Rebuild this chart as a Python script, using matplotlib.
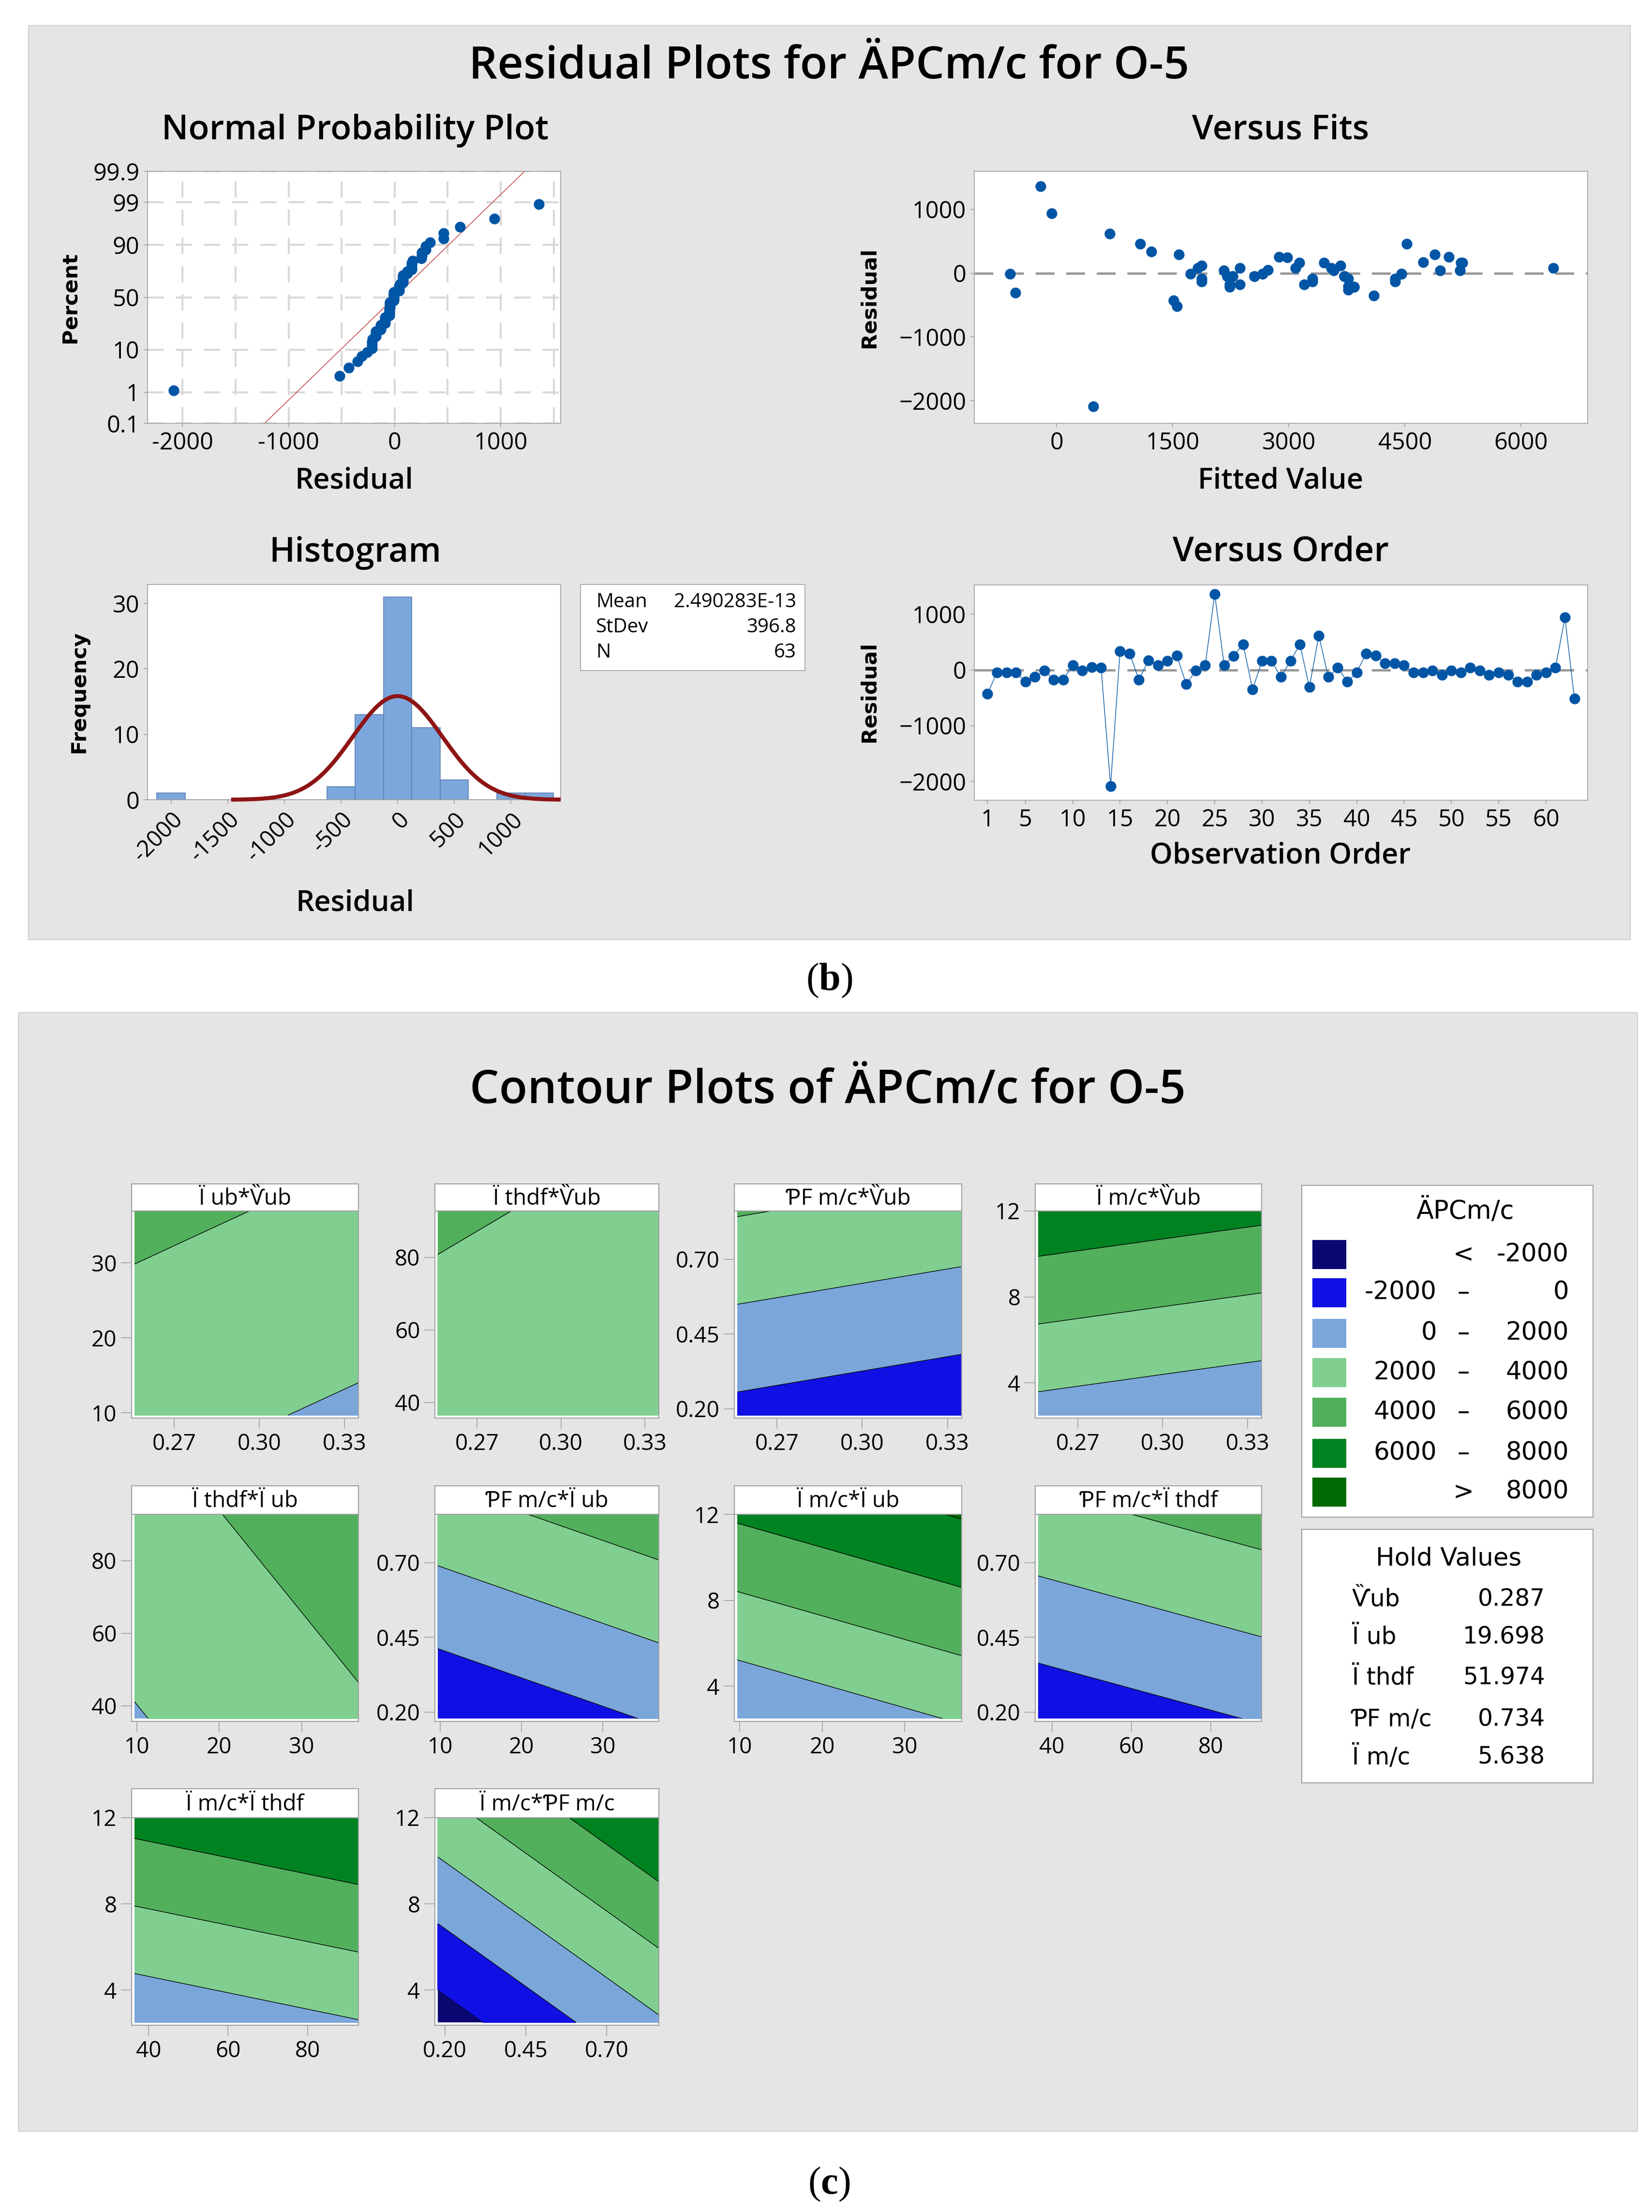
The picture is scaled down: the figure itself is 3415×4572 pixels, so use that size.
import matplotlib
matplotlib.use('Agg')
import matplotlib.pyplot as plt
import numpy as np
from matplotlib.patches import Rectangle
from statistics import NormalDist

W, H = 3416, 4572
DPI = 100

# ---------------- data: residual plots ----------------
residuals = [-430, -45, -45, -45, -210, -130, -10, -175, -175, 80,
             -10, 50, 40, -2085, 335, 295, -175, 170, 80, 160,
             255, -260, -10, 80, 1360, 80, 250, 460, -350, 160,
             160, -130, 160, 460, -310, 615, -130, 40, -215, -45,
             295, 255, 120, 120, 80, -50, -50, -10, -90, -10,
             -50, 40, -10, -90, -50, -90, -215, -215, -90, -50,
             40, 940, -520]
fitted = [1513, 2270, 3717, 2553, 3770, 4375, 1730, 3197, 2368, 1822,
          2658, 2730, 2158, 474, 1224, 1579, 2237, 4737, 3086, 5224,
          2875, 3770, 4454, 2368, -210, 6421, 2980, 1079, 4099, 5243,
          3454, 3303, 3138, 4526, -533, 684, 1875, 3579, 3842, 2204,
          4888, 5066, 3664, 1875, 3546, 2270, 3717, -605, 3770, 4454,
          2553, 4954, 2658, 3303, 2204, 1875, 3842, 2237, 4375, 3717,
          5211, -66, 1553]
res_mean = 2.490283e-13
res_stdev = 396.8
res_n = 63
hist_edges = [-2125, -1875, -1625, -1375, -1125, -875, -625, -375, -125,
              125, 375, 625, 875, 1125, 1375]
prob_ticks = [0.1, 1, 10, 50, 90, 99, 99.9]
prob_labels = ['0.1', '1', '10', '50', '90', '99', '99.9']
order_ticks = [1, 5, 10, 15, 20, 25, 30, 35, 40, 45, 50, 55, 60]

# ---------------- data: contour plots ----------------
var_range = {'V': (0.256, 0.335), 'Iub': (9.7, 36.9), 'thdf': (36.5, 92.8),
             'PF': (0.178, 0.862), 'Im': (2.5, 12.0)}
var_ticks = {'V': [0.27, 0.30, 0.33], 'Iub': [10, 20, 30], 'thdf': [40, 60, 80],
             'PF': [0.20, 0.45, 0.70], 'Im': [4, 8, 12]}
var_ticklabels = {'V': ['0.27', '0.30', '0.33'], 'Iub': ['10', '20', '30'],
                  'thdf': ['40', '60', '80'], 'PF': ['0.20', '0.45', '0.70'],
                  'Im': ['4', '8', '12']}
panel_titles = ['Ï ub*Ѷub', 'Ï thdf*Ѷub', 'ƤF m/c*Ѷub', 'Ï m/c*Ѷub',
                'Ï thdf*Ï ub', 'ƤF m/c*Ï ub', 'Ï m/c*Ï ub', 'ƤF m/c*Ï thdf',
                'Ï m/c*Ï thdf', 'Ï m/c*ƤF m/c']
panel_xvar = ['V', 'V', 'V', 'V', 'Iub', 'Iub', 'Iub', 'thdf', 'thdf', 'PF']
panel_yvar = ['Iub', 'thdf', 'PF', 'Im', 'thdf', 'PF', 'Im', 'PF', 'Im', 'Im']
# corner values of the response: (xmin,ymin), (xmax,ymin), (xmin,ymax), (xmax,ymax)
panel_corners = [[2639, 1707, 4478, 3546],
                 [2914, 2030, 4294, 3410],
                 [-529, -1390, 4129, 3268],
                 [1308, 388, 7340, 6420],
                 [1886, 3756, 3266, 5136],
                 [-1688, 175, 3239, 5102],
                 [283, 2162, 6258, 8137],
                 [-1276, 124, 3415, 4815],
                 [552, 1919, 6613, 7980],
                 [-2970, 1777, 3177, 7924]]
contour_levels = [-2000, 0, 2000, 4000, 6000, 8000]
contour_colors = ['#0A0870', '#1010E4', '#7BA6DA', '#80CF91', '#52B05C',
                  '#008221', '#026A03']
legend_left = ['', '-2000', '0', '2000', '4000', '6000', '']
legend_mid = ['<', '–', '–', '–', '–', '–', '>']
legend_right = ['-2000', '0', '2000', '4000', '6000', '8000', '8000']
hold_names = ['Ѷub', 'Ï ub', 'Ï thdf', 'ƤF m/c', 'Ï m/c']
hold_values = ['0.287', '19.698', '51.974', '0.734', '5.638']

# ---------------- style ----------------
plt.rcParams['font.family'] = ['Open Sans', 'Noto Sans', 'DejaVu Sans']
BLUE = '#0055A5'
GRAYBG = '#E5E5E5'
SPINE = '#A0A0A0'

fig = plt.figure(figsize=(W / DPI, H / DPI), dpi=DPI)
fig.patch.set_facecolor('white')


def rect(x0, y0, x1, y1):
    return [x0 / W, 1 - y1 / H, (x1 - x0) / W, (y1 - y0) / H]


def ftext(x, y, s, **kw):
    kw.setdefault('ha', 'center')
    kw.setdefault('va', 'center')
    return fig.text(x / W, 1 - y / H, s, **kw)


def fbox(x0, y0, x1, y1, fc, ec, lw=1.5, z=-10):
    r = Rectangle((x0 / W, 1 - y1 / H), (x1 - x0) / W, (y1 - y0) / H,
                  transform=fig.transFigure, facecolor=fc, edgecolor=ec,
                  linewidth=lw, zorder=z)
    fig.add_artist(r)


def style_axes(ax, tick_len=6, lsize=35):
    for sp in ax.spines.values():
        sp.set_color(SPINE)
        sp.set_linewidth(1.2)
    ax.tick_params(axis='both', colors=SPINE, labelcolor='black',
                   labelsize=lsize, length=tick_len, width=1.2, pad=6)


# backgrounds
fbox(59, 53, 3370, 1942, GRAYBG, '#CFCFCF')
fbox(38, 2093, 3385, 4405, GRAYBG, '#CFCFCF')

TITLE_KW = dict(fontsize=67, fontweight='semibold')
SUB_KW = dict(fontsize=51, fontweight='semibold')
XL_KW = dict(fontsize=43, fontweight='semibold')
YL_KW = dict(fontsize=31, fontweight='bold', family=['DejaVu Sans'], rotation=90)

ftext(1714, 138, 'Residual Plots for ÄPCm/c for O-5', **TITLE_KW)

res = np.array(residuals, dtype=float)
nd = NormalDist()

# ---- Normal probability plot ----
ax = fig.add_axes(rect(305, 354, 1159, 875))
style_axes(ax)
srt = np.sort(res)
ranks = np.arange(1, res_n + 1)
pp = (ranks - 0.3) / (res_n + 0.4)
zz = np.array([nd.inv_cdf(p) for p in pp])
zlo, zhi = nd.inv_cdf(0.001), nd.inv_cdf(0.999)
ax.set_xlim(-2330, 1566)
ax.set_ylim(zlo, zhi)
ax.set_xticks([-2000, -1000, 0, 1000])
ax.set_xticklabels(['-2000', '-1000', '0', '1000'])
ax.set_xticks([-1500, -500, 500, 1500], minor=True)
ax.tick_params(axis='x', which='minor', length=0)
ax.set_yticks([nd.inv_cdf(p / 100) for p in prob_ticks])
ax.set_yticklabels(prob_labels)
ax.set_axisbelow(True)
ax.grid(True, which='both', axis='x', color='#D9D9D9', linewidth=3,
        linestyle=(0, (8, 6)))
ax.grid(True, which='major', axis='y', color='#D9D9D9', linewidth=3,
        linestyle=(0, (8, 6)))
zl = np.array([zlo, zhi])
ax.plot(res_mean + zl * res_stdev, zl, color='#C03030', linewidth=1.0, zorder=2)
ax.plot(srt, zz, 'o', color=BLUE, markersize=15, zorder=3)
ftext(734, 270, 'Normal Probability Plot', **SUB_KW)
ftext(732, 994, 'Residual', **XL_KW)
ftext(145, 615, 'Percent', **YL_KW)

# ---- Versus fits ----
ax = fig.add_axes(rect(2014, 354, 3282, 875))
style_axes(ax)
ax.set_xlim(-1066, 6862)
ax.set_ylim(-2354, 1597)
ax.set_xticks([0, 1500, 3000, 4500, 6000])
ax.set_yticks([-2000, -1000, 0, 1000])
ax.axhline(0, color='#999999', linewidth=3.5, linestyle=(0, (8, 5)), zorder=1)
ax.plot(fitted, residuals, 'o', color=BLUE, markersize=15, zorder=3)
ftext(2647, 270, 'Versus Fits', **SUB_KW)
ftext(2647, 994, 'Fitted Value', **XL_KW)
ftext(1797, 615, 'Residual', **YL_KW)

# ---- Histogram ----
ax = fig.add_axes(rect(305, 1208, 1159, 1653))
style_axes(ax)
counts, _ = np.histogram(res, bins=hist_edges)
edges = np.array(hist_edges, dtype=float)
ax.bar(edges[:-1], counts, width=np.diff(edges), align='edge',
       color='#7BA7DC', edgecolor='#5B7FB5', linewidth=1.2, zorder=2)
xs = np.linspace(-1470, 1440, 300)
binw = edges[1] - edges[0]
pdf = np.array([NormalDist(res_mean, res_stdev).pdf(v) for v in xs])
ax.plot(xs, res_n * binw * pdf, color='#8E1414', linewidth=6, zorder=3,
        solid_capstyle='butt', clip_on=False)
ax.set_xlim(-2208, 1440)
ax.set_ylim(0, 32.9)
ax.set_xticks([-2000, -1500, -1000, -500, 0, 500, 1000])
ax.set_xticklabels(['-2000', '-1500', '-1000', '-500', '0', '500', '1000'],
                   rotation=45, ha='right', rotation_mode='anchor', fontsize=34)
ax.set_yticks([0, 10, 20, 30])
ftext(734, 1143, 'Histogram', **SUB_KW)
ftext(734, 1867, 'Residual', **XL_KW)
ftext(163, 1430, 'Frequency', **YL_KW)
# stats box
fbox(1200, 1208, 1664, 1386, 'white', SPINE, lw=1.2, z=1)
stat_names = ['Mean', 'StDev', 'N']
stat_vals = ['2.490283E-13', '396.8', '63']
for i, (nm, vv) in enumerate(zip(stat_names, stat_vals)):
    yy = 1245 + i * 52
    ftext(1232, yy, nm, ha='left', fontsize=29, zorder=3)
    ftext(1646, yy, vv, ha='right', fontsize=29, zorder=3)

# ---- Versus order ----
ax = fig.add_axes(rect(2014, 1209, 3282, 1654))
style_axes(ax)
obs = np.arange(1, res_n + 1)
ax.set_xlim(-0.4, 64.4)
ax.set_ylim(-2340, 1524)
ax.set_xticks(order_ticks)
ax.set_yticks([-2000, -1000, 0, 1000])
ax.axhline(0, color='#999999', linewidth=3.5, linestyle=(0, (8, 5)), zorder=1)
ax.plot(obs, res, '-', color=BLUE, linewidth=1.0, zorder=2)
ax.plot(obs, res, 'o', color=BLUE, markersize=15, zorder=3)
ftext(2647, 1141, 'Versus Order', **SUB_KW)
ftext(2647, 1769, 'Observation Order', **XL_KW)
ftext(1797, 1430, 'Residual', **YL_KW)

# (b), (c)
plt.rcParams['mathtext.fontset'] = 'custom'
plt.rcParams['mathtext.rm'] = 'Liberation Serif'
plt.rcParams['mathtext.bf'] = 'Liberation Serif:bold'
ftext(1714, 2027, r'($\mathbf{b}$)', fontsize=58, family=['Liberation Serif'])
ftext(1714, 4515, r'($\mathbf{c}$)', fontsize=58, family=['Liberation Serif'])

# ---------------- contour section ----------------
ftext(1711, 2255, 'Contour Plots of ÄPCm/c for O-5', fontsize=69,
      fontweight='semibold')

col_x = [(272, 741), (899, 1362), (1518, 1988), (2140, 2608)]
row_y = [(2447, 2503, 2931), (3071, 3130, 3558), (3697, 3757, 4186)]
fill_levels = [-1e7] + contour_levels + [1e7]

for k in range(10):
    r, c = divmod(k, 4)
    x0p, x1p = col_x[c]
    ytp, yap, ybp = row_y[r]
    # title box
    tax = fig.add_axes(rect(x0p, ytp, x1p, yap))
    tax.set_xticks([])
    tax.set_yticks([])
    tax.set_facecolor('white')
    for sp in tax.spines.values():
        sp.set_color(SPINE)
        sp.set_linewidth(1.5)
    tax.text(0.5, 0.45, panel_titles[k], ha='center', va='center', fontsize=33,
             transform=tax.transAxes)
    # plot area
    ax = fig.add_axes(rect(x0p, yap, x1p, ybp))
    ax.set_facecolor('white')
    xv, yv = panel_xvar[k], panel_yvar[k]
    xa, xb = var_range[xv]
    ya, yb = var_range[yv]
    X = np.array([xa, xb])
    Y = np.array([ya, yb])
    zc = panel_corners[k]
    Z = np.array([[zc[0], zc[1]], [zc[2], zc[3]]], dtype=float)
    ax.contourf(X, Y, Z, levels=fill_levels, colors=contour_colors)
    ax.contour(X, Y, Z, levels=contour_levels, colors='black', linewidths=1.0)
    ax.set_xlim(xa - 0.013 * (xb - xa), xb)
    ax.set_ylim(ya - 0.014 * (yb - ya), yb)
    ax.set_xticks(var_ticks[xv])
    ax.set_xticklabels(var_ticklabels[xv])
    ax.set_yticks(var_ticks[yv])
    ax.set_yticklabels(var_ticklabels[yv])
    for sp in ax.spines.values():
        sp.set_color(SPINE)
        sp.set_linewidth(1.5)
    ax.tick_params(axis='both', colors=SPINE, labelcolor='black', labelsize=33,
                   length=16, width=1.2, pad=6)

# legend box
fbox(2691, 2450, 3293, 3136, 'white', SPINE, lw=1.5, z=1)
LEG_KW = dict(fontsize=37, family=['DejaVu Sans'])
ftext(3029, 2503, 'ÄPCm/c', fontsize=38, family=['DejaVu Sans'], zorder=3)
leg_y = [2593, 2672, 2756, 2837, 2919, 3004, 3084]
for i in range(7):
    yy = leg_y[i]
    fbox(2713, yy - 30, 2783, yy + 30, contour_colors[i], 'none', lw=0, z=2)
    if legend_left[i]:
        ftext(2970, yy, legend_left[i], ha='right', zorder=3, **LEG_KW)
    ftext(3025, yy, legend_mid[i], ha='center', zorder=3, **LEG_KW)
    ftext(3243, yy, legend_right[i], ha='right', zorder=3, **LEG_KW)

# hold values box
fbox(2691, 3161, 3293, 3685, 'white', SPINE, lw=1.5, z=1)
ftext(2995, 3222, 'Hold Values', fontsize=37, family=['DejaVu Sans'], zorder=3)
hold_y = [3306, 3384, 3468, 3554, 3631]
for i in range(5):
    ftext(2795, hold_y[i], hold_names[i], ha='left', fontsize=35,
          family=['DejaVu Sans'], zorder=3)
    ftext(3194, hold_y[i], hold_values[i], ha='right', fontsize=35,
          family=['DejaVu Sans'], zorder=3)

fig.savefig('out.png', dpi=DPI, facecolor='white')
